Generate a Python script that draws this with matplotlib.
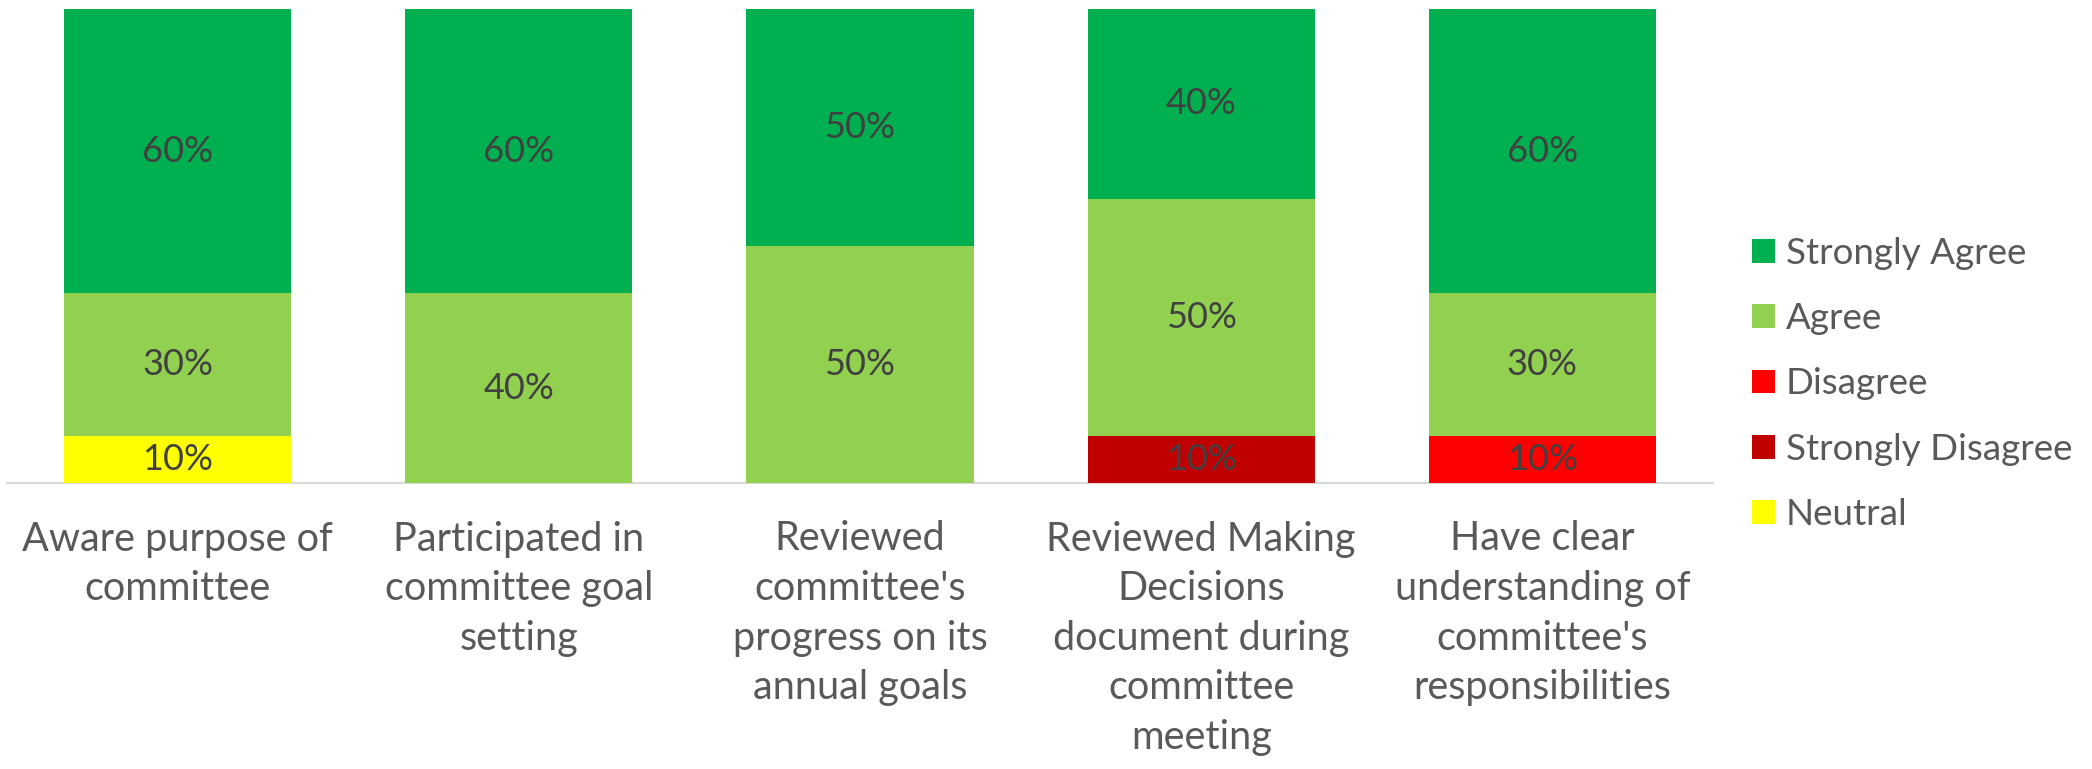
import matplotlib
matplotlib.use("Agg")
import matplotlib.pyplot as plt
import numpy as np

categories = [
    "Aware purpose of\ncommittee",
    "Participated in\ncommittee goal\nsetting",
    "Reviewed\ncommittee's\nprogress on its\nannual goals",
    "Reviewed Making\nDecisions\ndocument during\ncommittee\nmeeting",
    "Have clear\nunderstanding of\ncommittee's\nresponsibilities",
]
# stacking order bottom -> top
series_names = ["Neutral", "Strongly Disagree", "Disagree", "Agree", "Strongly Agree"]
neutral = [0.10, 0.0, 0.0, 0.0, 0.0]
strongly_disagree = [0.0, 0.0, 0.0, 0.10, 0.0]
disagree = [0.0, 0.0, 0.0, 0.0, 0.10]
agree = [0.30, 0.40, 0.50, 0.50, 0.30]
strongly_agree = [0.60, 0.60, 0.50, 0.40, 0.60]
colors = ["#FFFF00", "#C00000", "#FF0000", "#92D050", "#00B050"]

plt.rcParams['font.family'] = ['Lato', 'DejaVu Sans']

W, H = 2092, 769
fig = plt.figure(figsize=(W / 100, H / 100), dpi=100)
ax = fig.add_axes([7 / W, 1 - 483 / H, (1713 - 7) / W, (483 - 9) / H])

x = np.arange(len(categories))
values = [neutral, strongly_disagree, disagree, agree, strongly_agree]
bottom = np.zeros(len(categories))
handles = {}
for name, vals, col in zip(series_names, values, colors):
    vals = np.array(vals)
    bars = ax.bar(x, vals, width=0.666, bottom=bottom, color=col, label=name, zorder=2)
    handles[name] = bars
    for xi, v, b in zip(x, vals, bottom):
        if v > 0:
            ax.text(xi, b + v / 2, f"{v*100:.0f}%", ha="center", va="center",
                    fontsize=26, color="#404040", zorder=3)
    bottom += vals

ax.set_xlim(-0.5, len(categories) - 0.5)
ax.set_ylim(0, 1.0)
ax.set_yticks([])
for s in ["top", "right", "left"]:
    ax.spines[s].set_visible(False)
ax.spines["bottom"].set_color("#D9D9D9")
ax.spines["bottom"].set_linewidth(1.5)
ax.spines["bottom"].set_zorder(1)
ax.set_xticks(x)
ax.set_xticklabels(categories, fontsize=28.5, color="#595959", linespacing=1.42)
ax.tick_params(axis="x", length=0, pad=27)

order = ["Strongly Agree", "Agree", "Disagree", "Strongly Disagree", "Neutral"]
leg = fig.legend([handles[n] for n in order], order,
                 loc="center left", bbox_to_anchor=(1752 / W, 1 - 384 / H),
                 frameon=False, fontsize=26.5, labelcolor="#595959",
                 handlelength=0.62, handleheight=0.62, handletextpad=0.3,
                 labelspacing=0.88, borderpad=0, borderaxespad=0)

fig.savefig("out.png", dpi=100)
